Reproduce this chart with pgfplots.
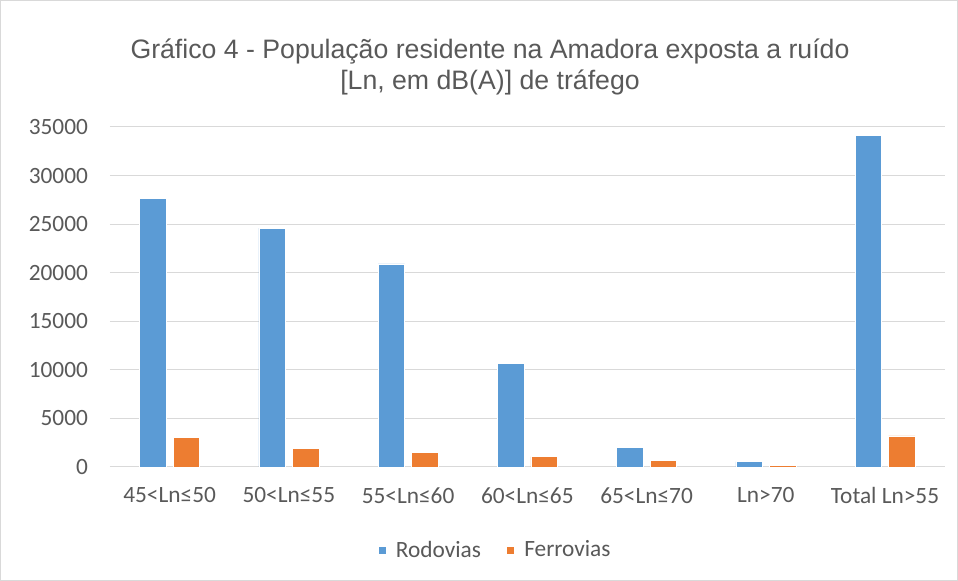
\documentclass[border=0pt]{standalone}
\usepackage{pgfplots}
\pgfplotsset{compat=1.18}
\usepackage{fontspec}
\setmainfont{Carlito}
\newfontfamily\titlefont{Liberation Sans}
\definecolor{rodo}{HTML}{5B9BD5}
\definecolor{ferro}{HTML}{ED7D31}
\definecolor{txt}{HTML}{595959}
\definecolor{grd}{HTML}{D9D9D9}
\begin{document}
\begin{tikzpicture}[x=1pt,y=1pt]
\useasboundingbox (0,0) rectangle (718.5,435.75);
\draw[grd,line width=0.75pt] (0.4,0.4) rectangle (718.1,435.35);
\node[font=\titlefont\fontsize{20}{23.2}\selectfont,text=txt,align=center] at (367.5,385.5)
  {Gráfico 4 - População residente na Amadora exposta a ruído\\{}[Ln, em dB(A)] de tráfego};
\begin{axis}[
  at={(82.5pt,85.5pt)},anchor=south west,
  scale only axis,
  width=626pt,height=255pt,
  ybar=5.25pt,
  bar width=19.9pt,
  xmin=-0.5,xmax=6.5,
  ymin=0,ymax=35000,
  ytick={0,5000,...,35000},
  xtick={0,...,6},
  xticklabels={45<Ln≤50,50<Ln≤55,55<Ln≤60,60<Ln≤65,65<Ln≤70,Ln>70,Total Ln>55},
  scaled y ticks=false,
  /pgf/number format/assume math mode=true,
  /pgf/number format/1000 sep={},
  tick label style={font=\fontsize{17.5}{20}\selectfont,text=txt},
  ymajorgrids,
  grid style={grd,line width=0.75pt},
  axis line style={draw=none},
  x axis line style={draw=grd,line width=0.75pt},
  axis x line*=bottom,
  axis y line*=left,
  major tick length=0pt,
  xticklabel style={yshift=-12pt},
  yticklabel style={xshift=-13pt},
  legend style={at={(0.462,-0.244)},anchor=center,draw=none,legend columns=2,
    font=\fontsize{17.5}{20}\selectfont,text=txt,
    /tikz/every odd column/.append style={column sep=5pt},
    /tikz/every even column/.append style={column sep=17pt}},
  legend image code/.code={\fill[#1] (0pt,-3pt) rectangle (6pt,3pt);},
]
\addplot[fill=rodo,draw=white,line width=0.4pt] coordinates
  {(0,27650) (1,24600) (2,20900) (3,10700) (4,2000) (5,555) (6,34150)};
\addplot[fill=ferro,draw=white,line width=0.4pt] coordinates
  {(0,3050) (1,1900) (2,1480) (3,1070) (4,690) (5,145) (6,3200)};
\legend{Rodovias,Ferrovias}
\end{axis}
\end{tikzpicture}
\end{document}
